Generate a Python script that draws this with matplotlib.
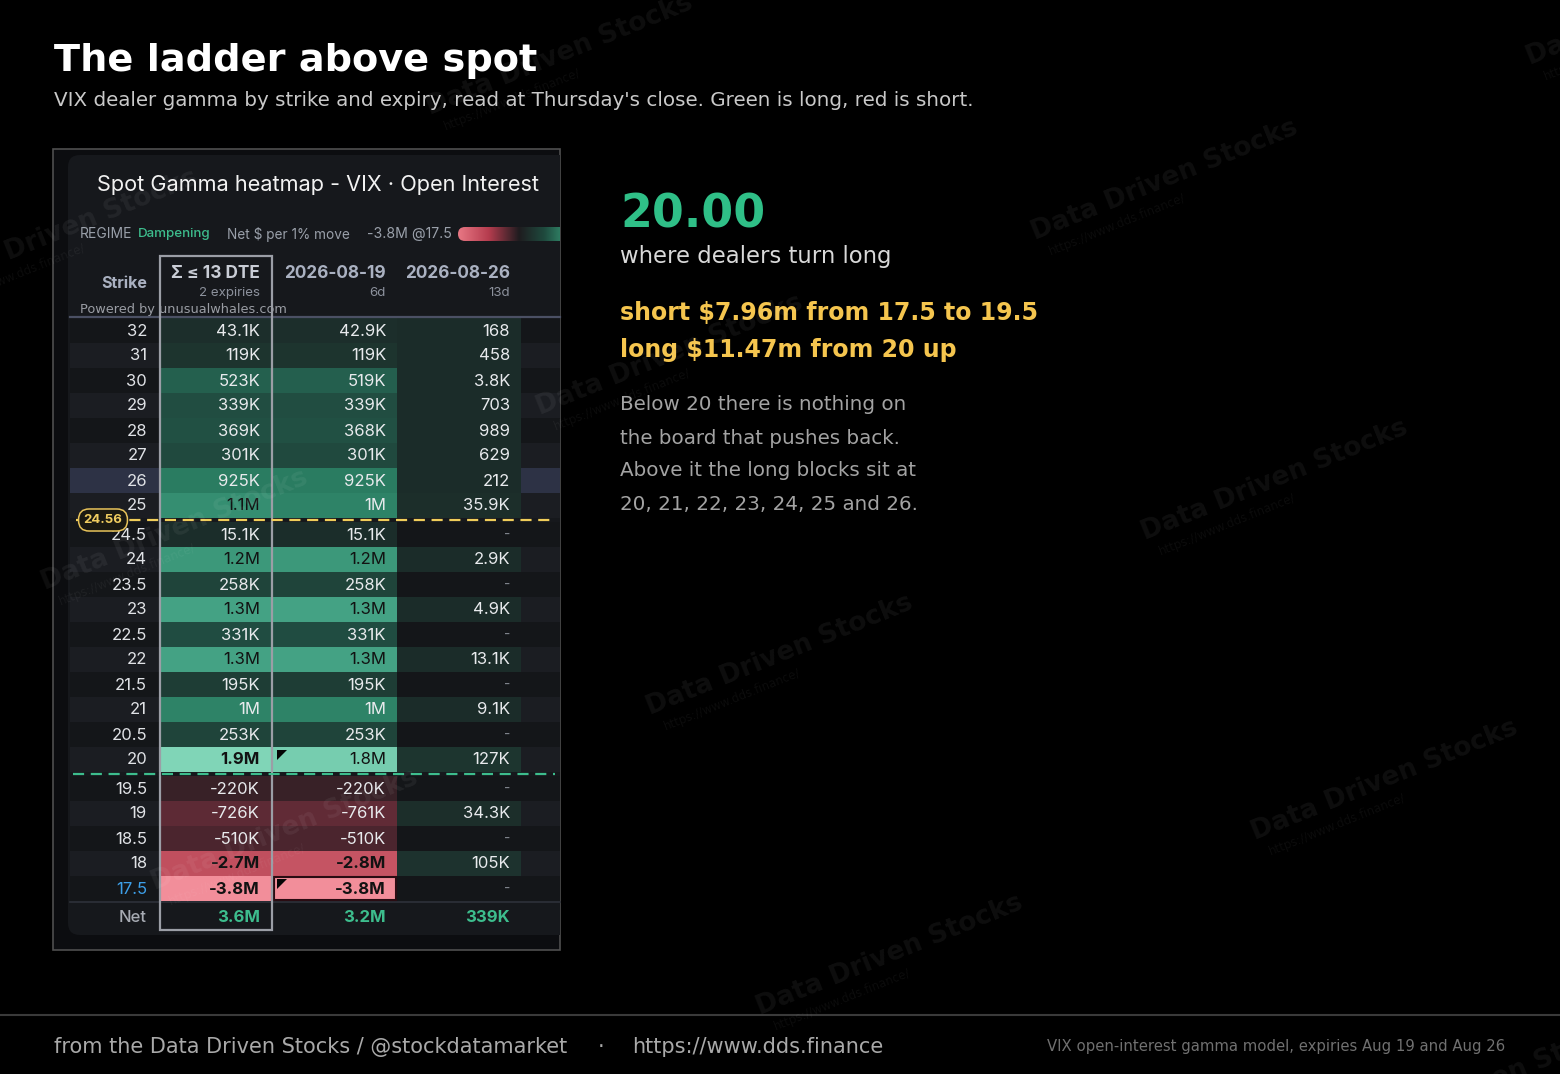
import numpy as np
import matplotlib
matplotlib.use("Agg")
import matplotlib.pyplot as plt
from matplotlib.patches import Rectangle, FancyBboxPatch, Polygon
from matplotlib.colors import LinearSegmentedColormap, Normalize, to_rgb

# data (VIX dealer gamma, $ per 1% move)
strikes = [32, 31, 30, 29, 28, 27, 26, 25, 24.5, 24, 23.5, 23, 22.5, 22,
           21.5, 21, 20.5, 20, 19.5, 19, 18.5, 18, 17.5]
sum_13dte = [43.1e3, 119e3, 523e3, 339e3, 369e3, 301e3, 925e3, 1.1e6, 15.1e3,
             1.2e6, 258e3, 1.3e6, 331e3, 1.3e6, 195e3, 1.0e6, 253e3, 1.9e6,
             -220e3, -726e3, -510e3, -2.7e6, -3.8e6]
exp_0819 = [42.9e3, 119e3, 519e3, 339e3, 368e3, 301e3, 925e3, 1.0e6, 15.1e3,
            1.2e6, 258e3, 1.3e6, 331e3, 1.3e6, 195e3, 1.0e6, 253e3, 1.8e6,
            -220e3, -761e3, -510e3, -2.8e6, -3.8e6]
exp_0826 = [168, 458, 3.8e3, 703, 989, 629, 212, 35.9e3, np.nan, 2.9e3, np.nan,
            4.9e3, np.nan, 13.1e3, np.nan, 9.1e3, np.nan, 127e3, np.nan,
            34.3e3, np.nan, 105e3, np.nan]
net_totals = [3.6e6, 3.2e6, 339e3]
col_titles = ["Σ ≤ 13 DTE", "2026-08-19", "2026-08-26"]
col_subtitles = ["2 expiries", "6d", "13d"]

spot = 24.56
flip_strike = 20
highlight_strike = 26
selected_strike = 17.5
short_total = 7.96   # $m, 17.5 to 19.5
long_total = 11.47   # $m, 20 and up
long_blocks = [20, 21, 22, 23, 24, 25, 26]

BG = "#000000"
GREEN = "#2fbf87"
YELLOW = "#f5c54e"
PANEL_FONT = ["Inter", "DejaVu Sans"]

fig = plt.figure(figsize=(15.6, 10.74), dpi=100, facecolor=BG)
ax = fig.add_axes([0, 0, 1, 1])
ax.set_xlim(0, 1560)
ax.set_ylim(1074, 0)
ax.axis("off")

# ---- headline ----
ax.text(54, 71, "The ladder above spot", fontsize=27.5, fontweight="bold",
        color="white", va="baseline")
ax.text(54, 106, "VIX dealer gamma by strike and expiry, read at Thursday's close. "
        "Green is long, red is short.", fontsize=14.3, color="#c9c9c9", va="baseline")

# ---- screenshot frame + card ----
frame = Rectangle((53, 149), 507, 801, facecolor="#0c0d10", edgecolor="#4f4f4f",
                  lw=1.2, zorder=1)
ax.add_patch(frame)
card = FancyBboxPatch((68, 155), 520, 780, boxstyle="round,pad=0,rounding_size=12",
                      facecolor="#16181c", edgecolor="none", zorder=2)
ax.add_patch(card)
card.set_clip_path(frame)

ax.text(97, 185, "Spot Gamma heatmap - VIX · Open Interest", fontsize=15.6,
        color="#f2f2f2", va="center", family=PANEL_FONT, zorder=5)

ax.text(80, 234, "REGIME", fontsize=10, color="#9aa0aa", va="center",
        family=PANEL_FONT, zorder=5)
ax.text(138, 234, "Dampening", fontsize=9.6, color="#3dbd8d", va="center",
        family=PANEL_FONT, fontweight="medium", zorder=5)
ax.text(227, 234, "Net $ per 1% move", fontsize=9.8, color="#9aa0aa", va="center",
        family=PANEL_FONT, zorder=5)
ax.text(367, 234, "-3.8M @17.5", fontsize=10.2, color="#9aa0aa", va="center",
        family=PANEL_FONT, zorder=5)

# legend gradient bar
grad_cmap = LinearSegmentedColormap.from_list(
    "bar", [(0, "#e87784"), (0.3, "#b53c4e"), (0.6, "#1e1c1f"), (0.85, "#1f4a3e"),
            (1, "#2d7a60")])
bar = ax.imshow(np.linspace(0, 1, 200)[None, :], cmap=grad_cmap, aspect="auto",
                extent=[458, 560, 241, 227], zorder=4)
bar_shape = FancyBboxPatch((458, 227), 120, 14, boxstyle="round,pad=0,rounding_size=7",
                           facecolor="none", edgecolor="none")
ax.add_patch(bar_shape)
bar.set_clip_path(bar_shape)
ax.set_xlim(0, 1560)
ax.set_ylim(1074, 0)

# ---- table layout ----
ROW_H = 25
X_LEFT, X_RIGHT = 70, 560
COL_EDGES = [(161, 271), (273, 397), (397, 521)]
STRIKE_X = 147
CELL_FS = 12
columns = [sum_13dte, exp_0819, exp_0826]

row_tops = []
y = 318
spot_line_y = flip_line_y = None
for i, k in enumerate(strikes):
    if i > 0 and strikes[i - 1] > spot >= k:
        spot_line_y = y + 2
        y += 4
    if i > 0 and strikes[i - 1] >= flip_strike > k:
        flip_line_y = y + 2
        y += 4
    row_tops.append(y)
    y += ROW_H
table_bottom = y

# headers
hdr_col = "#aab1c1"
ax.text(STRIKE_X, 283, "Strike", fontsize=11.5, fontweight="bold", color=hdr_col,
        ha="right", va="center", family=PANEL_FONT, zorder=5)
for j, (x0, x1) in enumerate(COL_EDGES):
    ax.text(x1 - 11, 274, col_titles[j], fontsize=12.4, fontweight="bold",
            color="#c9cdd6" if j == 0 else hdr_col, ha="right", va="center",
            family=PANEL_FONT, zorder=5)
    ax.text(x1 - 11, 293, col_subtitles[j], fontsize=9.6, color="#8c919c",
            ha="right", va="center", family=PANEL_FONT, zorder=5)
ax.text(80, 309, "Powered by unusualwhales.com", fontsize=9.3, color="#9a9da4",
        va="center", zorder=9)
ax.plot([X_LEFT, X_RIGHT], [317, 317], color="#4b5064", lw=1.6, zorder=5)

# colour scales
pos_cmap = LinearSegmentedColormap.from_list(
    "pos", [(0, "#1b2c29"), (0.06, "#1d332e"), (0.16, "#204a3f"), (0.28, "#24614f"),
            (0.5, "#2a7e62"), (0.7, "#46a587"), (1.0, "#80d5b7")])
neg_cmap = LinearSegmentedColormap.from_list(
    "neg", [(0, "#261c20"), (0.06, "#3a2228"), (0.13, "#4a252e"), (0.2, "#612b36"),
            (0.5, "#93404d"), (0.72, "#c2505f"), (1.0, "#f28e9a")])
pos_norm = Normalize(0, np.nanmax(sum_13dte))
neg_norm = Normalize(0, -np.nanmin(sum_13dte))


def cell_color(v):
    if v >= 0:
        return pos_cmap(pos_norm(v))
    return neg_cmap(neg_norm(-v))


def fmt(v):
    if np.isnan(v):
        return "-"
    a = abs(v)
    if a >= 1e6:
        return f"{v / 1e6:.1f}".rstrip("0").rstrip(".") + "M"
    if a >= 1e3:
        return f"{v / 1e3:.3g}K"
    return f"{v:.0f}"


for i, k in enumerate(strikes):
    top = row_tops[i]
    stripe = "#1b1d22" if i % 2 else "#141619"
    if k == highlight_strike:
        stripe = "#2d3245"
    ax.add_patch(Rectangle((X_LEFT, top), X_RIGHT - X_LEFT, ROW_H, facecolor=stripe,
                           edgecolor="none", zorder=3))
    lab = f"{k:g}"
    ax.text(STRIKE_X, top + ROW_H / 2 + 0.5, lab, fontsize=CELL_FS,
            color="#3d9fe8" if k == selected_strike else "#e0e2e6",
            ha="right", va="center", family=PANEL_FONT, zorder=5)
    for j, (x0, x1) in enumerate(COL_EDGES):
        v = columns[j][i]
        if np.isnan(v):
            ax.text(x1 - 11, top + ROW_H / 2, "-", fontsize=10, color="#80848c",
                    ha="right", va="center", family=PANEL_FONT, zorder=5)
            continue
        c = cell_color(v)
        ax.add_patch(Rectangle((x0, top), x1 - x0, ROW_H, facecolor=c,
                               edgecolor="none", zorder=4))
        r, g, b = to_rgb(c)
        lum = 0.299 * r + 0.587 * g + 0.114 * b
        ax.text(x1 - 11, top + ROW_H / 2 + 0.5, fmt(v), fontsize=CELL_FS,
                color="#121212" if lum > 0.41 else "#e8eaed",
                fontweight="bold" if abs(v) >= 1.9e6 else "normal",
                ha="right", va="center", family=PANEL_FONT, zorder=5)

# extremes of the 08-19 expiry get the corner flag, the low one is selected
x0, x1 = COL_EDGES[1]
for idx in [int(np.nanargmax(exp_0819)), int(np.nanargmin(exp_0819))]:
    top = row_tops[idx]
    ax.add_patch(Polygon([(x0 + 4, top + 3), (x0 + 14, top + 3), (x0 + 4, top + 13)],
                         closed=True, facecolor="#050505", edgecolor="none", zorder=6))
sel = int(np.nanargmin(exp_0819))
ax.add_patch(Rectangle((x0 + 1, row_tops[sel] + 1), x1 - x0 - 2, ROW_H - 2,
                       facecolor="none", edgecolor="#2a0c12", lw=1.5, zorder=6))

# net row
net_top = table_bottom + 1
ax.plot([X_LEFT, X_RIGHT], [net_top, net_top], color="#2e3139", lw=1.2, zorder=5)
ax.text(STRIKE_X, net_top + 15, "Net", fontsize=CELL_FS, fontweight="medium",
        color="#a7abb3", ha="right", va="center", family=PANEL_FONT, zorder=5)
for j, (x0, x1) in enumerate(COL_EDGES):
    ax.text(x1 - 11, net_top + 15, fmt(net_totals[j]), fontsize=CELL_FS,
            fontweight="bold", color="#3dbd8d", ha="right", va="center",
            family=PANEL_FONT, zorder=5)

# Σ column outline
ax.add_patch(Rectangle((160, 256), 112, net_top + 28 - 256, facecolor="none",
                       edgecolor="#9b9ea6", lw=1.6, zorder=7))

# spot and flip lines
ax.plot([76, 555], [spot_line_y, spot_line_y], color="#f0cd5a", lw=1.6,
        ls=(0, (5, 3)), zorder=8)
ax.text(103, spot_line_y, f"{spot:.2f}", fontsize=9.5, fontweight="bold",
        color="#f0cd60", ha="center", va="center", family=PANEL_FONT, zorder=10,
        bbox=dict(boxstyle="round,pad=0.38,rounding_size=0.8", facecolor="#1a1912",
                  edgecolor="#e8c35a", lw=1.1))
ax.plot([73, 555], [flip_line_y, flip_line_y], color="#3dbd8d", lw=1.6,
        ls=(0, (5, 3)), zorder=8)

# ---- right-hand call-out ----
ax.text(620, 228, f"{flip_strike:.2f}", fontsize=33, fontweight="bold", color=GREEN,
        va="baseline")
ax.text(620, 257, "where dealers turn long", fontsize=16.4, color="#d9d9d9", va="center")
ax.text(620, 313, f"short ${short_total:.2f}m from {min(strikes):g} to 19.5",
        fontsize=17, fontweight="bold", color=YELLOW, va="center")
ax.text(620, 350, f"long ${long_total:.2f}m from {flip_strike} up",
        fontsize=17, fontweight="bold", color=YELLOW, va="center")
blocks = ", ".join(str(b) for b in long_blocks[:-1]) + f" and {long_blocks[-1]}."
para = ["Below 20 there is nothing on", "the board that pushes back.",
        "Above it the long blocks sit at", blocks]
for n, line in enumerate(para):
    ax.text(620, 405 + 33 * n, line, fontsize=14.3, color="#a3a3a3", va="center")

# ---- footer ----
ax.plot([0, 1560], [1015, 1015], color="#3a3a3a", lw=1.5)
ax.text(54, 1047, "from the Data Driven Stocks / @stockdatamarket", fontsize=15,
        color="#a9a9a9", va="center")
ax.text(601, 1047, "·", fontsize=15, color="#a9a9a9", va="center", ha="center")
ax.text(632, 1047, "https://www.dds.finance", fontsize=15, color="#a9a9a9", va="center")
ax.text(1505, 1046, "VIX open-interest gamma model, expiries Aug 19 and Aug 26",
        fontsize=10.75, color="#707070", va="center", ha="right")

# ---- watermark lattice ----
ang = np.deg2rad(22)
for i in range(-2, 4):
    for j in range(-2, 4):
        wx = 430 + 605 * i + 110 * j
        wy = 115 + 125 * i + 300 * j
        if not (-300 < wx < 1600 and 0 < wy < 1180):
            continue
        ax.text(wx, wy, "Data Driven Stocks", fontsize=19, fontweight="bold",
                color="white", alpha=0.06, rotation=22, rotation_mode="anchor",
                ha="left", va="baseline", zorder=20, clip_on=True)
        ux = wx + 8 + 20 * np.sin(ang)
        uy = wy + 20 * np.cos(ang) - 3
        ax.text(ux, uy, "https://www.dds.finance/", fontsize=8.5, color="white",
                alpha=0.05, rotation=22, rotation_mode="anchor", ha="left",
                va="baseline", zorder=20, clip_on=True)

fig.savefig("out.png", dpi=100, facecolor=BG)
